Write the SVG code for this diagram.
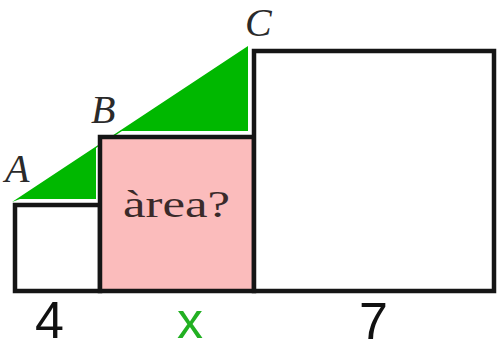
<svg xmlns="http://www.w3.org/2000/svg" width="497" height="349" viewBox="0 0 497 349">
<style>
.sq{stroke:#151515;stroke-width:4.5;stroke-linejoin:miter}
.pt{font-family:"Liberation Serif",serif;font-style:italic;font-size:40px;fill:#2a2a2a}
.num{font-family:"Liberation Sans",Arial,sans-serif;font-size:52px}
</style>
<rect width="497" height="349" fill="#ffffff"/>
<g id="triangle">
<polygon points="12,202 248,46 248,131 122,131 96,148 96,199 20,199" fill="#00b800"/>
</g>
<g id="square-4">
<rect class="sq" x="15" y="205" width="85" height="86" fill="#ffffff"/>
</g>
<g id="square-x">
<rect class="sq" x="100" y="137" width="154" height="154" fill="#fbbcbc"/>
<text x="123" y="217" font-family="Liberation Serif,serif" font-size="38" fill="#3a2a2a" textLength="107" lengthAdjust="spacingAndGlyphs">àrea?</text>
</g>
<g id="square-7">
<rect class="sq" x="254" y="51" width="240" height="240" fill="#ffffff"/>
</g>
<g id="labels">
<text class="pt" x="5" y="182">A</text>
<text class="pt" x="91" y="123">B</text>
<text class="pt" x="245" y="36">C</text>
<text class="num" x="35" y="338" fill="#111111">4</text>
<text class="num" x="177" y="338" fill="#22b022" font-size="54">x</text>
<text class="num" x="359" y="339" fill="#111111">7</text>
</g>
</svg>
